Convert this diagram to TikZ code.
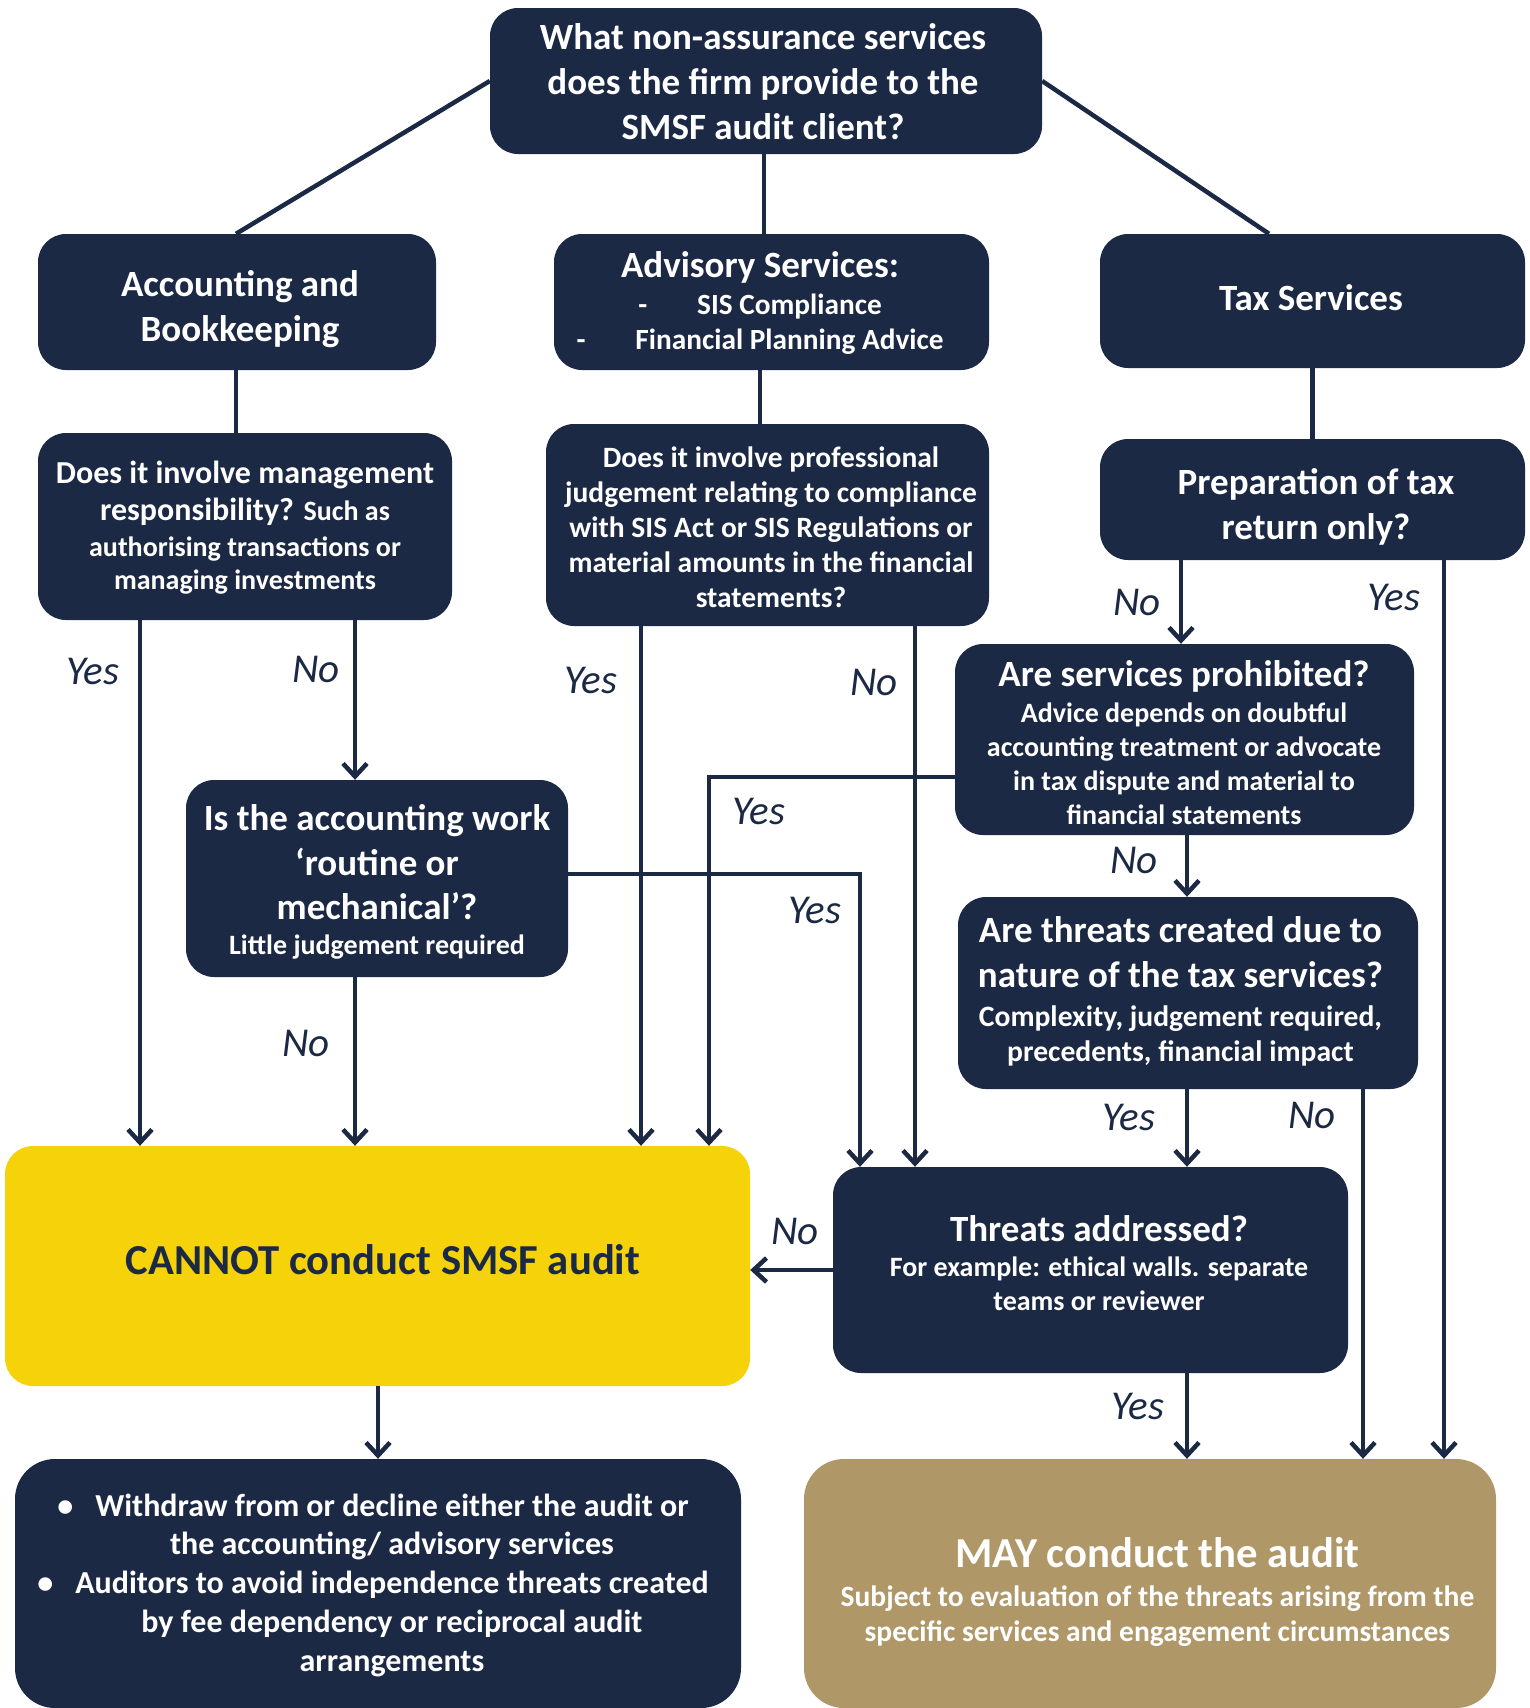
\documentclass[tikz,border=0pt]{standalone}
\usepackage{fontspec}
\setmainfont{Carlito}
\usetikzlibrary{arrows.meta,calc}
\definecolor{navy}{HTML}{1B2944}
\definecolor{gold}{HTML}{F5D20A}
\definecolor{tanc}{HTML}{AF9768}
\newcommand\Cset{\spaceskip=0pt\xspaceskip=0pt\leftskip=0pt plus 1fil\rightskip=0pt plus 1fil\parfillskip=0pt\leavevmode}
% first line of a text block: size, text (a 40pt strut fixes its top)
\newcommand\Lf[2]{{\fontsize{#1}{#1}\selectfont\Cset\rule{0pt}{40pt}#2\par}}
% next line: size, distance from previous baseline, text
\newcommand\Ln[3]{{\fontsize{#1}{#2}\selectfont\Cset #3\par}}
\tikzset{
  box/.style={fill=navy, rounded corners=28pt, inner sep=0pt},
  txt/.style={text=white, font=\bfseries, align=center, inner sep=0pt, anchor=north,
    execute at begin node={\parindent=0pt\parskip=0pt}},
  conn/.style={draw=navy, line width=4.5pt},
  arr/.style={conn, -{Straight Barb[length=13pt,width=24pt]}},
  lab/.style={text=navy, font=\itshape\fontsize{41}{41}\selectfont, inner sep=0pt},
}
\begin{document}
\begin{tikzpicture}[x=1pt,y=-1pt]
\clip (0,0) rectangle (1530,1708);
% boxes
\node[box, minimum width=552pt, minimum height=146pt] (top) at (766,81) {};
\node[box, minimum width=398pt, minimum height=136pt] (acc) at (237,302) {};
\node[box, minimum width=435pt, minimum height=136pt] (adv) at (771.5,302) {};
\node[box, minimum width=425pt, minimum height=134pt] (tax) at (1312.5,301) {};
\node[box, minimum width=414pt, minimum height=187pt] (mgmt) at (245,526.5) {};
\node[box, minimum width=443pt, minimum height=202pt] (prof) at (767.5,525) {};
\node[box, minimum width=425pt, minimum height=121pt] (prep) at (1312.5,499.5) {};
\node[box, minimum width=459pt, minimum height=191pt] (prohib) at (1184.5,739.5) {};
\node[box, minimum width=382pt, minimum height=197pt] (routine) at (377,878.5) {};
\node[box, minimum width=460pt, minimum height=192pt] (threats) at (1188,993) {};
\node[box, fill=gold, minimum width=745pt, minimum height=240pt] (cannot) at (377.5,1266) {};
\node[box, minimum width=515pt, minimum height=206pt] (addr) at (1090.5,1270) {};
\node[box, rounded corners=40pt, minimum width=726pt, minimum height=249pt] (withd) at (378,1583.5) {};
\node[box, fill=tanc, rounded corners=40pt, minimum width=692pt, minimum height=249pt] (may) at (1150,1583.5) {};
% texts
\node[txt, text width=552pt] (topt) at (763,9)
  {\Lf{37}{What non-assurance services}\Ln{37}{45}{does the firm provide to the}\Ln{37}{45}{SMSF audit client?}};
\node[txt, text width=398pt] (acct) at (240,256)
  {\Lf{37}{Accounting and}\Ln{37}{45}{Bookkeeping}};
\node[txt, text width=435pt] (advt) at (760,237)
  {\Lf{37}{Advisory Services:}\Ln{29.3}{37}{-\hspace{50pt}SIS Compliance}\Ln{29.3}{35}{-\hspace{50pt}Financial Planning Advice}};
\node[txt, text width=425pt] (taxt) at (1311,270)
  {\Lf{37}{Tax Services}};
\node[txt, text width=414pt] (mgmtt) at (245,443)
  {\Lf{32}{Does it involve management}\Ln{32}{37}{responsibility? {\fontsize{28}{28}\selectfont Such as}}\Ln{28}{36}{authorising transactions or}\Ln{28}{33}{managing investments}};
\node[txt, text width=443pt] (proft) at (771,427)
  {\Lf{29.5}{Does it involve professional}\Ln{29.5}{35}{judgement relating to compliance}\Ln{29.5}{35}{with SIS Act or SIS Regulations or}\Ln{29.5}{35}{material amounts in the financial}\Ln{29.5}{35}{statements?}};
\node[txt, text width=425pt] (prept) at (1316,454)
  {\Lf{37}{Preparation of tax}\Ln{37}{45}{return only?}};
\node[txt, text width=459pt] (prohibt) at (1184,646)
  {\Lf{37}{Are services prohibited?}\Ln{28}{36}{Advice depends on doubtful}\Ln{28}{34}{accounting treatment or advocate}\Ln{28}{34}{in tax dispute and material to}\Ln{28}{34}{financial statements}};
\node[txt, text width=382pt] (routinet) at (377,790)
  {\Lf{37}{Is the accounting work}\Ln{37}{45}{‘routine or}\Ln{37}{44}{mechanical’?}\Ln{28}{35}{Little judgement required}};
\node[txt, text width=460pt] (threatst) at (1180.5,902)
  {\Lf{37}{Are threats created due to}\Ln{37}{45}{nature of the tax services?}\Ln{29.6}{39}{Complexity, judgement required,}\Ln{29.6}{35}{precedents, financial impact}};
\node[txt, text=navy, text width=745pt] (cannott) at (383,1234)
  {\Lf{42.7}{CANNOT conduct SMSF audit}};
\node[txt, text width=515pt] (addrt) at (1099,1201)
  {\Lf{37}{Threats addressed?}\Ln{28}{35}{For example: ethical walls. separate}\Ln{28}{34}{teams or reviewer}};
\node[txt, text width=726pt] (withdt) at (392,1476)
  {\Lf{32}{\llap{•\hspace{22pt}}Withdraw from or decline either the audit or}\Ln{32}{38.7}{the accounting/ advisory services}\Ln{32}{38.7}{\llap{•\hspace{22pt}}Auditors to avoid independence threats created}\Ln{32}{38.7}{by fee dependency or reciprocal audit}\Ln{32}{38.7}{arrangements}};
\node[txt, text width=692pt] (mayt) at (1157.5,1527)
  {\Lf{42.7}{MAY conduct the audit}\Ln{29.5}{39}{Subject to evaluation of the threats arising from the}\Ln{29.5}{35}{specific services and engagement circumstances}};
% column coordinates
\coordinate (xa) at (140,0);
\coordinate (xb) at (355,0);
\coordinate (xc) at (641,0);
\coordinate (xd) at (709,0);
\coordinate (xe) at (860,0);
\coordinate (xf) at (915,0);
\coordinate (xg) at (1181,0);
\coordinate (xh) at (1187,0);
\coordinate (xi) at (1363,0);
\coordinate (xj) at (1444,0);
\coordinate (xk) at (764,0);
\coordinate (xl) at (1269,0);
\coordinate (xm) at (236,0);
\coordinate (xn) at (760,0);
\coordinate (yp) at (0,777);
\coordinate (yr) at (0,874);
% top level
\draw[conn] (top.west) -- (acc.north -| xm);
\draw[conn] (top.south -| xk) -- (adv.north -| xk);
\draw[conn] (top.east) -- (tax.north -| xl);
\draw[conn] (acc.south -| xm) -- (mgmt.north -| xm);
\draw[conn] (adv.south -| xn) -- (prof.north -| xn);
\draw[conn] (tax.south) -- (prep.north);
% arrows
\draw[arr] (mgmt.south -| xa) -- (cannot.north -| xa);
\draw[arr] (mgmt.south -| xb) -- (routine.north -| xb);
\draw[arr] (routine.south -| xb) -- (cannot.north -| xb);
\draw[arr] (routine.east |- yr) -| (addr.north -| xe);
\draw[arr] (prof.south -| xc) -- (cannot.north -| xc);
\draw[arr] (prof.south -| xf) -- (addr.north -| xf);
\draw[arr] (prep.south -| xg) -- (prohib.north -| xg);
\draw[arr] (prep.south -| xj) -- (may.north -| xj);
\draw[arr] (prohib.west |- yp) -| (cannot.north -| xd);
\draw[arr] (prohib.south -| xh) -- (threats.north -| xh);
\draw[arr] (threats.south -| xh) -- (addr.north -| xh);
\draw[arr] (threats.south -| xi) -- (may.north -| xi);
\draw[arr] (addr.west) -- (addr.west -| cannot.east);
\draw[arr] (addr.south -| xh) -- (may.north -| xh);
\draw[arr] (cannot.south -| withd.north) -- (withd.north);
% labels
\node[lab] (l1) at (93,671) {Yes};
\node[lab] (l2) at (316,669) {No};
\node[lab] (l3) at (306,1043) {No};
\node[lab] (l4) at (815,910) {Yes};
\node[lab] (l5) at (591,680) {Yes};
\node[lab] (l6) at (874,682) {No};
\node[lab] (l7) at (1137,602) {No};
\node[lab] (l8) at (1394,597) {Yes};
\node[lab] (l9) at (759,811) {Yes};
\node[lab] (l10) at (1134,860) {No};
\node[lab] (l11) at (1129,1117) {Yes};
\node[lab] (l12) at (1312,1115) {No};
\node[lab] (l13) at (795,1231) {No};
\node[lab] (l14) at (1138,1406) {Yes};
\end{tikzpicture}
\end{document}
